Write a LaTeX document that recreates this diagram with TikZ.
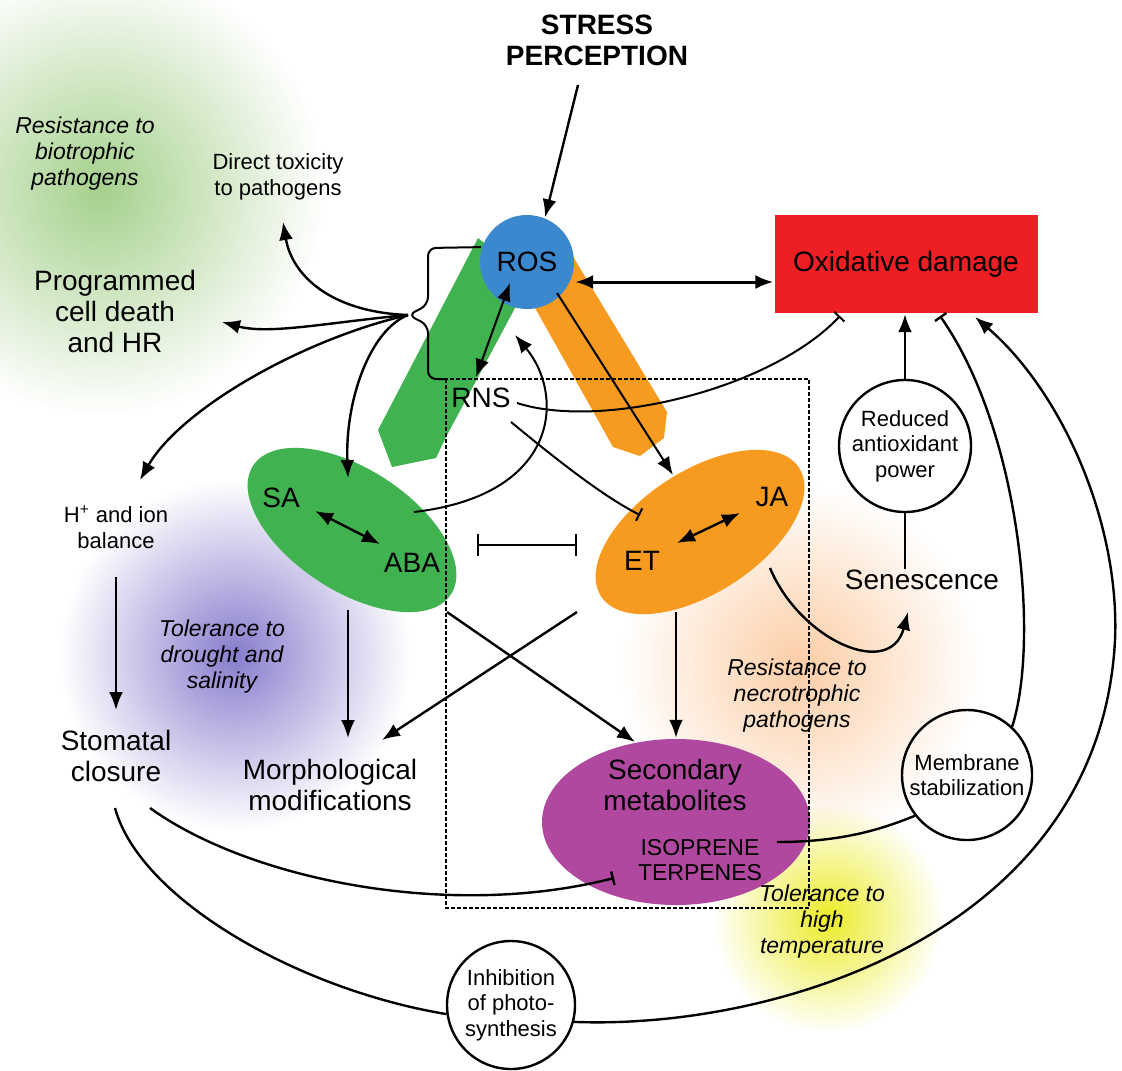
\documentclass[tikz,border=0pt]{standalone}
\usepackage{fontspec}
\setmainfont{Liberation Sans}
\usetikzlibrary{shapes.geometric, arrows.meta, calc, fadings}

\definecolor{rosblue}{RGB}{60,136,206}
\definecolor{oxred}{RGB}{237,30,36}
\definecolor{hgreen}{RGB}{64,178,80}
\definecolor{horange}{RGB}{247,155,32}
\definecolor{smpurple}{RGB}{176,72,160}
\definecolor{glowgreen}{RGB}{165,208,140}
\definecolor{glowviolet}{RGB}{135,125,205}
\definecolor{glowpeach}{RGB}{252,205,165}
\definecolor{glowyellow}{RGB}{235,235,40}

\tikzfading[name=glowfade, inner color=transparent!0, outer color=transparent!100]

\tikzstyle{biglbl}=[font=\fontsize{14}{15.5}\selectfont, align=center, inner sep=0pt]
\tikzstyle{lbl}=[font=\fontsize{11}{12.8}\selectfont, align=center, inner sep=0pt]
\tikzstyle{italbl}=[font=\fontsize{11.5}{13}\selectfont\itshape, align=center, inner sep=0pt]
\tikzstyle{ring}=[circle, draw, inner sep=0pt, lbl]
\tikzstyle{act}=[-{Latex[length=9pt,width=7pt]}]
\tikzstyle{mutual}=[{Latex[length=9pt,width=7pt]}-{Latex[length=9pt,width=7pt]}]
\tikzstyle{block}=[-{Bar[width=7pt]}]

\begin{document}
\begin{tikzpicture}[x=0.5pt, y=-0.5pt, line width=1.2pt]
\useasboundingbox (0,0) rectangle (1122,1070);
% Glows
    \fill[glowgreen, path fading=glowfade] (100,190) circle (225);
    \fill[glowviolet, path fading=glowfade] (235,655) circle (175);
    \fill[glowpeach, path fading=glowfade] (800,665) circle (180);
    \fill[glowyellow, path fading=glowfade] (828,918) circle (115);
% Bands
    \fill[hgreen] (478,238) -- (378,430) -- (392,467) -- (436,458) -- (446,437) -- (530,280) -- cycle;
    \fill[horange] (525,290) -- (613,447) -- (640,456) -- (664,438) -- (667,412) -- (560,235) -- cycle;
% Shapes
    \node[circle, fill=rosblue, minimum size=47pt, biglbl] (ros) at (527,262) {ROS};
    \node[rectangle, fill=oxred, minimum width=131.5pt, minimum height=49pt, biglbl] (oxd) at (906,264) {Oxidative damage};
    \node[ellipse, fill=hgreen, minimum width=118pt, minimum height=61pt, inner sep=0pt, rotate=-33] (sabox) at (352,530) {};
    \node[ellipse, fill=horange, minimum width=118pt, minimum height=61pt, inner sep=0pt, rotate=33] (etbox) at (700,532) {};
    \node[ellipse, fill=smpurple, minimum width=134pt, minimum height=83pt, inner sep=0pt] (secmet) at (676,822) {};
    \node[ring, minimum size=66pt] (redox) at (905,446) {Reduced\\antioxidant\\power};
    \node[ring, minimum size=65pt] (memb) at (967,775) {Membrane\\stabilization};
    \node[ring, minimum size=64pt] (inhib) at (511,1005) {Inhibition\\of photo-\\synthesis};
    \draw[line width=0.6pt, dash pattern=on 2pt off 1pt] (446,379) rectangle (809,908);
% Labels
    \node[biglbl, font=\fontsize{14}{15.5}\selectfont\bfseries] (stress) at (597,40) {STRESS\\PERCEPTION};
    \node[biglbl] (rns) at (481,398) {RNS};
    \node[biglbl] (sa) at (281,498) {SA};
    \node[biglbl] (aba) at (412,563) {ABA};
    \node[biglbl] (et) at (642,561) {ET};
    \node[biglbl] (ja) at (772,497) {JA};
    \node[biglbl] (pcd) at (115,311) {Programmed\\cell death\\and HR};
    \node[biglbl] (stom) at (116,756) {Stomatal\\closure};
    \node[biglbl] (morph) at (330,785) {Morphological\\modifications};
    \node[biglbl] (secmettxt) at (675,785) {Secondary\\metabolites};
    \node[biglbl] (sen) at (922,580) {Senescence};
    \node[lbl] (tox) at (278,177) {Direct toxicity\\to pathogens};
    \node[lbl] (hion) at (116,527) {H\textsuperscript{+} and ion\\balance};
    \node[lbl, font=\fontsize{11.5}{12.8}\selectfont] (iso) at (700,860) {ISOPRENE\\TERPENES};
    \node[italbl] (biotr) at (85,154) {Resistance to\\biotrophic\\pathogens};
    \node[italbl] (drought) at (222,657) {Tolerance to\\drought and\\salinity};
    \node[italbl] (necro) at (797,696) {Resistance to\\necrotrophic\\pathogens};
    \node[italbl] (hightemp) at (822,922) {Tolerance to\\high\\temperature};
% Bracket
    \coordinate (hub) at (408,315);
    \draw[rounded corners=4pt, line width=1pt] (ros.162) -- (428,248) -- (428,305) -- (hub) -- (428,325) -- (428,379) -- (446,379);
% Connectors
    \draw[act] ($(stress)+(-19,45)$) -- (ros.68);
    \draw[mutual, line width=1.5pt] ([yshift=-10pt]ros.east) -- ([yshift=-9pt]oxd.west);
    \draw[mutual, line width=1pt] ($(ros)+(-17,21)$) -- ($(rns)+(-5,-21)$);
    \draw[act, line width=1pt] ($(ros)+(30,31)$) -- ($(etbox)+(-27,-57)$);
    \draw[act, line width=1pt] ($(sabox)+(62,-18)$) .. controls (560,495) and (565,395) .. ($(ros)+(-12,73)$);
    \draw[block, line width=1pt] ($(rns)+(36,5)$) .. controls (600,430) and (770,390) .. ($(oxd)+(-66,52)$);
    \draw[block, line width=1pt] ($(rns)+(30,24)$) .. controls (545,450) and (600,495) .. ($(et)+(-2,-46)$);
    \draw[act] (hub) .. controls (330,312) and (292,275) .. ($(tox)+(5,45)$);
    \draw[act] (hub) .. controls (330,322) and (270,335) .. ($(pcd)+(107,11)$);
    \draw[act] (hub) .. controls (300,340) and (180,410) .. ($(hion)+(24,-47)$);
    \draw[act] (hub) .. controls (370,330) and (345,400) .. ($(sabox)+(-4,-52)$);
    \draw[mutual] ($(sa)+(34,13)$) -- ($(aba)+(-32,-19)$);
    \draw[mutual] ($(et)+(35,-18)$) -- ($(ja)+(-32,16)$);
    \draw[{Bar[width=11pt]}-{Bar[width=11pt]}] ($(sabox)+(125,15)$) -- ($(etbox)+(-123,13)$);
    \draw[act] ($(sabox)+(95,82)$) -- ($(secmet)+(-41,-80)$);
    \draw[act] ($(etbox)+(-123,80)$) -- ($(morph)+(52,-45)$);
    \draw[act] ($(sabox)+(-4,80)$) -- ($(morph)+(18,-47)$);
    \draw[act] ($(etbox)+(-24,80)$) -- (secmet.north);
    \draw[act] ($(hion)+(0,50)$) -- ($(stom)+(0,-46)$);
    \draw[act] ($(etbox)+(70,36)$) .. controls (800,640) and (890,680) .. ($(sen)+(-14,32)$);
    \draw[act] (redox.north) -- (redox.north |- oxd.south);
    \draw (redox.south) -- (redox.south |- sen.north);
    \draw[block] (memb.47) .. controls (1040,640) and (1020,430) .. ($(oxd)+(34,52)$);
    \draw[act] (inhib.-15) .. controls (780,1030) and (1100,930) .. (1115,640) .. controls (1120,520) and (1060,390) .. ($(oxd)+(69,53)$);
    \draw ($(stom)+(-1,52)$) .. controls (140,900) and (300,990) .. (inhib.188);
    \draw[block] ($(stom)+(34,52)$) .. controls (250,880) and (450,920) .. ($(iso)+(-86,18)$);
    \draw ($(iso)+(77,-18)$) .. controls (840,842) and (880,830) .. (memb.218);
\end{tikzpicture}
\end{document}
